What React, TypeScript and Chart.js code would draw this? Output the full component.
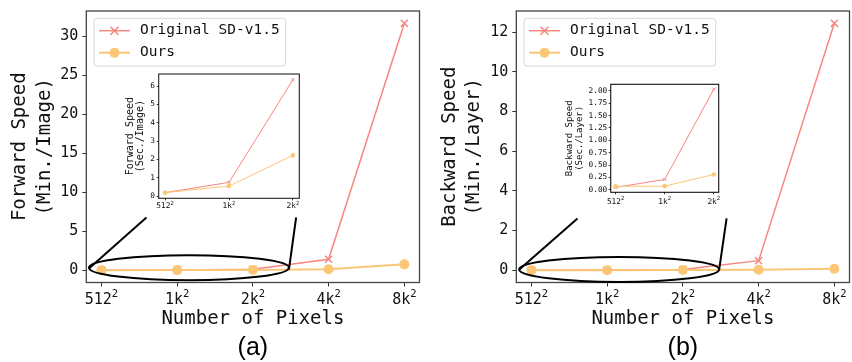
import React, { useEffect, useRef } from 'react';
import { Chart, registerables } from 'chart.js';

Chart.register(...registerables);

// ---------- data ----------
const pixelLabels = ['512²', '1k²', '2k²', '4k²', '8k²'];
const insetLabels = ['512²', '1k²', '2k²'];
const seriesNames = ['Original SD-v1.5', 'Ours'];

// main plots (minutes)
const forwardOriginal = [0.003, 0.013, 0.106, 1.4, 31.7];
const forwardOurs = [0.003, 0.009, 0.037, 0.13, 0.75];
const backwardOriginal = [0.001, 0.004, 0.034, 0.48, 12.45];
const backwardOurs = [0.001, 0.001, 0.005, 0.02, 0.07];

// inset plots (seconds)
const forwardInsetOriginal = [0.19, 0.75, 6.35];
const forwardInsetOurs = [0.19, 0.55, 2.22];
const backwardInsetOriginal = [0.05, 0.21, 2.03];
const backwardInsetOurs = [0.07, 0.075, 0.31];

// tick values
const forwardTicks = [0, 5, 10, 15, 20, 25, 30];
const backwardTicks = [0, 2, 4, 6, 8, 10, 12];
const forwardInsetTicks = [0, 1, 2, 3, 4, 5, 6];
const backwardInsetTicks = [0, 0.25, 0.5, 0.75, 1.0, 1.25, 1.5, 1.75, 2.0];

// zoom annotations (data coordinates of the main plots)
const forwardZoomEllipse = [1.155, 0.32, 1.32, 1.61]; // cx, cy, rx, ry
const forwardZoomLines = [
  [-0.165, 0.22, 0.594, 6.77],
  [2.476, 0.09, 2.571, 6.77],
];
const backwardZoomEllipse = [1.158, 0.04, 1.32, 0.63];
const backwardZoomLines = [
  [-0.16, 0.04, 0.608, 2.61],
  [2.478, 0.0, 2.577, 2.61],
];

// ---------- style ----------
const ORIG = '#f7877e';
const OURS = '#fbc777';
const MONO = "'DejaVu Sans Mono', monospace";
const TXT = '#111';

const padRange = (vals: number[], frac = 0.05) => {
  const lo = Math.min(...vals);
  const hi = Math.max(...vals);
  const m = (hi - lo) * frac;
  return [lo - m, hi + m];
};

type XLab = { labels: string[]; size: number; supSize: number; base: number; supBase: number };

type Extras = {
  bg?: boolean;
  frameColor: string;
  frameWidth: number;
  legend?: boolean;
  ellipse?: number[];
  lines?: number[][];
  xlab: XLab;
};

const makeExtras = (e: Extras) => ({
  id: 'extras',
  beforeDraw(chart: any) {
    if (!e.bg) return;
    const { ctx, chartArea: a } = chart;
    ctx.save();
    ctx.fillStyle = '#ffffff';
    ctx.fillRect(a.left, a.top, a.right - a.left, a.bottom - a.top);
    ctx.restore();
  },
  afterDatasetsDraw(chart: any) {
    const { ctx, chartArea: a } = chart;
    const xs = chart.scales.x;
    const ys = chart.scales.y;
    ctx.save();
    // frame
    ctx.strokeStyle = e.frameColor;
    ctx.lineWidth = e.frameWidth;
    ctx.strokeRect(a.left, a.top, a.right - a.left, a.bottom - a.top);

    // x tick labels with superscripts
    const xl = e.xlab;
    xl.labels.forEach((lab, i) => {
      const hasSup = lab.includes('²');
      const base = lab.replace('²', '');
      const sup = hasSup ? '2' : '';
      ctx.font = `${xl.size}px ${MONO}`;
      const bw = ctx.measureText(base).width;
      ctx.font = `${xl.supSize}px ${MONO}`;
      const sw = sup ? ctx.measureText(sup).width : 0;
      const cx = xs.getPixelForValue(i);
      const x0 = cx - (bw + sw) / 2;
      ctx.fillStyle = TXT;
      ctx.textAlign = 'left';
      ctx.textBaseline = 'alphabetic';
      ctx.font = `${xl.size}px ${MONO}`;
      ctx.fillText(base, x0, a.bottom + xl.base);
      if (sup) {
        ctx.font = `${xl.supSize}px ${MONO}`;
        ctx.fillText(sup, x0 + bw, a.bottom + xl.supBase);
      }
    });

    // zoom ellipse + connectors
    if (e.ellipse) {
      const [cx, cy, rx, ry] = e.ellipse;
      const px = xs.getPixelForValue(cx);
      const py = ys.getPixelForValue(cy);
      const rpx = Math.abs(xs.getPixelForValue(cx + rx) - px);
      const rpy = Math.abs(ys.getPixelForValue(cy + ry) - py);
      ctx.strokeStyle = '#000';
      ctx.lineWidth = 2;
      ctx.beginPath();
      ctx.ellipse(px, py, rpx, rpy, 0, 0, Math.PI * 2);
      ctx.stroke();
      (e.lines || []).forEach(([x1, y1, x2, y2]) => {
        ctx.beginPath();
        ctx.moveTo(xs.getPixelForValue(x1), ys.getPixelForValue(y1));
        ctx.lineTo(xs.getPixelForValue(x2), ys.getPixelForValue(y2));
        ctx.stroke();
      });
    }

    // legend
    if (e.legend) {
      const font = `14.5px ${MONO}`;
      ctx.font = font;
      const ds = chart.data.datasets;
      const textW = Math.max(...ds.map((d: any) => ctx.measureText(d.label).width));
      const x0 = a.left + 7.7;
      const y0 = a.top + 7.3;
      const w = 46 + textW + 6;
      const h = 47.7;
      ctx.beginPath();
      ctx.roundRect(x0, y0, w, h, 3);
      ctx.fillStyle = 'rgba(255,255,255,0.8)';
      ctx.fill();
      ctx.strokeStyle = '#d6d6d6';
      ctx.lineWidth = 1;
      ctx.stroke();
      ds.forEach((d: any, i: number) => {
        const cy = y0 + 12.4 + i * 22;
        ctx.strokeStyle = d.borderColor;
        ctx.lineWidth = d.borderWidth;
        ctx.beginPath();
        ctx.moveTo(x0 + 5, cy);
        ctx.lineTo(x0 + 36, cy);
        ctx.stroke();
        const mx = x0 + 20.5;
        const r = d.pointRadius;
        if (d.pointStyle === 'crossRot') {
          ctx.lineWidth = d.pointBorderWidth;
          ctx.beginPath();
          ctx.moveTo(mx - r * 0.8, cy - r * 0.8);
          ctx.lineTo(mx + r * 0.8, cy + r * 0.8);
          ctx.moveTo(mx - r * 0.8, cy + r * 0.8);
          ctx.lineTo(mx + r * 0.8, cy - r * 0.8);
          ctx.stroke();
        } else {
          ctx.fillStyle = d.pointBackgroundColor;
          ctx.beginPath();
          ctx.arc(mx, cy, r, 0, Math.PI * 2);
          ctx.fill();
        }
        ctx.fillStyle = TXT;
        ctx.font = font;
        ctx.textBaseline = 'middle';
        ctx.textAlign = 'left';
        ctx.fillText(d.label, x0 + 46, cy);
      });
    }
    ctx.restore();
  },
});

type Cfg = {
  labels: string[];
  orig: number[];
  ours: number[];
  yTicks: number[];
  yFmt: (v: number) => string;
  yTitle: string[];
  yTitleSize: number;
  yTitleLH: number;
  tickSize: number;
  tickLen: number;
  yTickPad: number;
  xTitle?: string;
  padding: { left: number; top: number; right: number; bottom: number };
  yWidth: number;
  xHeight: number;
  bottomTitle?: string;
  lineW: [number, number];
  markR: [number, number];
  markW: number;
  xlabStyle: { size: number; supSize: number; base: number; supBase: number };
  extras: Omit<Extras, 'xlab'>;
};

const buildConfig = (c: Cfg): any => {
  const n = c.labels.length;
  const [ymin, ymax] = padRange([...c.orig, ...c.ours]);
  const toPts = (v: number[]) => v.map((y, i) => ({ x: i, y }));
  return {
    type: 'line',
    data: {
      datasets: [
        {
          label: seriesNames[0],
          data: toPts(c.orig),
          borderColor: ORIG,
          backgroundColor: ORIG,
          borderWidth: c.lineW[0],
          pointStyle: 'crossRot',
          pointRadius: c.markR[0],
          pointBorderWidth: c.markW,
          pointBorderColor: ORIG,
          pointBackgroundColor: ORIG,
          order: 1,
        },
        {
          label: seriesNames[1],
          data: toPts(c.ours),
          borderColor: OURS,
          backgroundColor: OURS,
          borderWidth: c.lineW[1],
          pointStyle: 'circle',
          pointRadius: c.markR[1],
          pointBorderWidth: 0,
          pointBorderColor: OURS,
          pointBackgroundColor: OURS,
          order: 0,
        },
      ],
    },
    options: {
      animation: false,
      responsive: false,
      events: [],
      layout: { padding: c.padding },
      plugins: {
        legend: { display: false },
        tooltip: { enabled: false },
        title: c.bottomTitle
          ? {
              display: true,
              text: c.bottomTitle,
              position: 'bottom',
              fullSize: false,
              color: '#000',
              font: { family: "'Liberation Sans', Arial, sans-serif", size: 25, weight: 'normal', lineHeight: 1 },
              padding: { top: 4.5, bottom: 1.6 },
            }
          : { display: false },
      },
      scales: {
        x: {
          type: 'linear',
          min: -0.05 * (n - 1),
          max: (n - 1) * 1.05,
          afterBuildTicks: (s: any) => {
            s.ticks = c.labels.map((_, i) => ({ value: i }));
          },
          afterFit: (s: any) => {
            s.height = c.xHeight;
            s.paddingLeft = 0;
            s.paddingRight = 0;
          },
          ticks: {
            callback: () => '',
            font: { family: MONO, size: c.tickSize },
            padding: 0,
            maxRotation: 0,
            minRotation: 0,
            autoSkip: false,
          },
          grid: { drawOnChartArea: false, drawTicks: true, tickLength: c.tickLen, color: '#333', lineWidth: 1 },
          border: { display: false },
          title: c.xTitle
            ? {
                display: true,
                text: c.xTitle,
                color: TXT,
                font: { family: MONO, size: 19, lineHeight: 1.2 },
                padding: 0,
              }
            : { display: false },
        },
        y: {
          type: 'linear',
          min: ymin,
          max: ymax,
          afterBuildTicks: (s: any) => {
            s.ticks = c.yTicks.map((v) => ({ value: v }));
          },
          afterFit: (s: any) => {
            s.width = c.yWidth;
            s.paddingTop = 0;
            s.paddingBottom = 0;
          },
          ticks: {
            callback: (v: number) => c.yFmt(v),
            font: { family: MONO, size: c.tickSize },
            color: TXT,
            padding: c.yTickPad,
          },
          grid: { drawOnChartArea: false, drawTicks: true, tickLength: c.tickLen, color: '#333', lineWidth: 1 },
          border: { display: false },
          title: {
            display: true,
            text: c.yTitle,
            color: TXT,
            font: { family: MONO, size: c.yTitleSize, lineHeight: c.yTitleLH },
            padding: 0,
          },
        },
      },
    },
    plugins: [makeExtras({ ...c.extras, xlab: { labels: c.labels, ...c.xlabStyle } })],
  };
};

const intFmt = (v: number) => String(Math.round(v));
const fix2 = (v: number) => v.toFixed(2);

const mainCommon = {
  tickSize: 15,
  tickLen: 4,
  yTickPad: 4,
  xTitle: 'Number of Pixels',
  yTitleSize: 19,
  yTitleLH: 1.27,
  xHeight: 48.4,
  lineW: [1.5, 2] as [number, number],
  markR: [5, 5] as [number, number],
  markW: 1.5,
  xlabStyle: { size: 15, supSize: 10.5, base: 21, supBase: 14.8 },
};

const insetCommon = {
  tickSize: 7.8,
  tickLen: 2,
  lineW: [1, 1] as [number, number],
  markR: [2.3, 2.3] as [number, number],
  markW: 1,
};

const forwardMain = buildConfig({
  ...mainCommon,
  labels: pixelLabels,
  orig: forwardOriginal,
  ours: forwardOurs,
  yTicks: forwardTicks,
  yFmt: intFmt,
  yTitle: ['Forward Speed', '(Min./Image)'],
  padding: { left: 8.4, top: 11, right: 1, bottom: 0 },
  yWidth: 77.9,
  bottomTitle: '(a)',
  extras: { frameColor: '#444', frameWidth: 1.3, legend: true, ellipse: forwardZoomEllipse, lines: forwardZoomLines },
});

const backwardMain = buildConfig({
  ...mainCommon,
  labels: pixelLabels,
  orig: backwardOriginal,
  ours: backwardOurs,
  yTicks: backwardTicks,
  yFmt: intFmt,
  yTitle: ['Backward Speed', '(Min./Layer)'],
  padding: { left: 11.5, top: 11, right: 2.4, bottom: 0 },
  yWidth: 78.8,
  bottomTitle: '(b)',
  extras: { frameColor: '#444', frameWidth: 1.3, legend: true, ellipse: backwardZoomEllipse, lines: backwardZoomLines },
});

const forwardInset = buildConfig({
  ...insetCommon,
  labels: insetLabels,
  orig: forwardInsetOriginal,
  ours: forwardInsetOurs,
  yTicks: forwardInsetTicks,
  yFmt: intFmt,
  yTitle: ['Forward Speed', '(Sec./Image)'],
  yTitleSize: 10,
  yTitleLH: 1.08,
  yTickPad: 1.7,
  padding: { left: 24.6, top: 14, right: 10.7, bottom: 0 },
  yWidth: 34.1,
  xHeight: 21.7,
  xlabStyle: { size: 7.8, supSize: 5.6, base: 10, supBase: 6.3 },
  extras: { bg: true, frameColor: '#222', frameWidth: 1.1 },
});

const backwardInset = buildConfig({
  ...insetCommon,
  labels: insetLabels,
  orig: backwardInsetOriginal,
  ours: backwardInsetOurs,
  yTicks: backwardInsetTicks,
  yFmt: fix2,
  yTitle: ['Backward Speed', '(Sec./Layer)'],
  yTitleSize: 9,
  yTitleLH: 1.11,
  yTickPad: 1.4,
  padding: { left: 35, top: 24.3, right: 21.3, bottom: 0 },
  yWidth: 45.7,
  xHeight: 27.7,
  xlabStyle: { size: 7.8, supSize: 5.6, base: 11.5, supBase: 7.3 },
  extras: { bg: true, frameColor: '#111', frameWidth: 1.1 },
});

function ChartCanvas({ config, left, top, width, height }: { config: any; left: number; top: number; width: number; height: number }) {
  const ref = useRef<HTMLCanvasElement>(null);
  useEffect(() => {
    const chart = new Chart(ref.current as HTMLCanvasElement, config);
    return () => chart.destroy();
  }, [config]);
  return (
    <canvas
      ref={ref}
      width={width}
      height={height}
      style={{ position: 'absolute', left, top, width, height, display: 'block' }}
    />
  );
}

export default function App() {
  return (
    <div
      style={{
        position: 'absolute',
        left: 0,
        top: 0,
        width: 852,
        height: 362,
        overflow: 'hidden',
        background: '#ffffff',
      }}
    >
      <ChartCanvas config={forwardMain} left={0} top={0} width={426} height={362} />
      <ChartCanvas config={backwardMain} left={426} top={0} width={430} height={362} />
      <ChartCanvas config={forwardInset} left={100} top={60} width={210} height={160} />
      <ChartCanvas config={backwardInset} left={530} top={60} width={210} height={160} />
    </div>
  );
}
